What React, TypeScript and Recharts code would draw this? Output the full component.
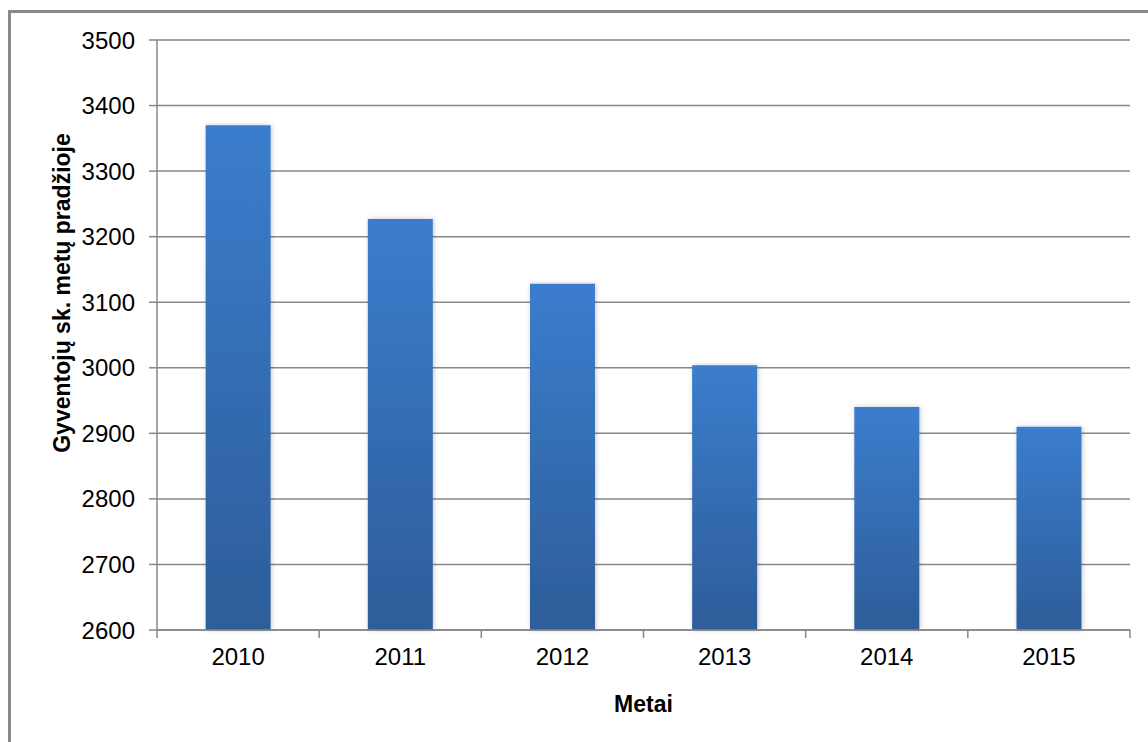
import { BarChart, Bar, XAxis, YAxis, CartesianGrid } from 'recharts';

const years = ['2010', '2011', '2012', '2013', '2014', '2015'];
const population = [3370, 3227, 3128, 3004, 2940, 2910];
const yTicks = [2600, 2700, 2800, 2900, 3000, 3100, 3200, 3300, 3400, 3500];

const CHART_W = 1148;
const CHART_H = 742;
const MARGIN = { top: 40, right: 18, bottom: 52, left: 0 };
const Y_AXIS_W = 157;
const PLOT_W = CHART_W - MARGIN.left - MARGIN.right - Y_AXIS_W;

const FONT = '"Liberation Sans", Arial, sans-serif';
const AXIS_GRAY = '#878787';

const data = years.map((year, i) => ({ year, value: population[i] }));

// ticks sit on category boundaries (Excel style), labels stay centered
function CategoryTick(props: any) {
  const { x, y, payload, index } = props;
  const half = PLOT_W / years.length / 2;
  const axisY = y - 18;
  const isLast = index === years.length - 1;
  return (
    <g>
      <line x1={x - half} x2={x - half} y1={axisY} y2={axisY + 8} stroke={AXIS_GRAY} strokeWidth={1.5} />
      {isLast && (
        <line x1={x + half} x2={x + half} y1={axisY} y2={axisY + 8} stroke={AXIS_GRAY} strokeWidth={1.5} />
      )}
      <text x={x} y={y} dy="0.71em" textAnchor="middle" fill="#000" fontSize={24} fontFamily={FONT}>
        {payload.value}
      </text>
    </g>
  );
}

function YTitle(props: any) {
  const { viewBox } = props;
  const cx = viewBox.x + 62;
  const cy = viewBox.y + viewBox.height / 2 - 42;
  return (
    <text
      x={cx}
      y={cy}
      transform={`rotate(-90, ${cx}, ${cy})`}
      textAnchor="middle"
      dominantBaseline="central"
      fontSize={23}
      fontWeight="bold"
      fontFamily={FONT}
      fill="#000"
    >
      Gyventojų sk. metų pradžioje
    </text>
  );
}

export default function App() {
  return (
    <div style={{ position: 'absolute', left: 0, top: 0, width: CHART_W, height: CHART_H, overflow: 'hidden', background: '#fff' }}>
      <div
        style={{
          position: 'absolute',
          left: 8,
          top: 10,
          width: 1300,
          height: 900,
          borderTop: '3px solid #8a8a8a',
          borderLeft: '3px solid #8a8a8a',
        }}
      />
      <div style={{ position: 'absolute', left: 0, top: 0 }}>
        <BarChart width={CHART_W} height={CHART_H} data={data} margin={MARGIN} barCategoryGap="30%">
          <defs>
            <linearGradient id="barFill" x1="0" y1="0" x2="0" y2="1">
              <stop offset="0%" stopColor="#3b7dcd" />
              <stop offset="100%" stopColor="#2d5d99" />
            </linearGradient>
            <filter id="barShadow" x="-20%" y="-5%" width="140%" height="110%">
              <feDropShadow dx="1" dy="0" stdDeviation="2.5" floodColor="#000" floodOpacity="0.22" />
            </filter>
          </defs>
          <CartesianGrid vertical={false} stroke={AXIS_GRAY} strokeWidth={1.5} />
          <XAxis
            dataKey="year"
            height={60}
            tickSize={8}
            tickMargin={10}
            tickLine={false}
            axisLine={{ stroke: AXIS_GRAY, strokeWidth: 1.5 }}
            tick={<CategoryTick />}
            interval={0}
            label={{
              value: 'Metai',
              position: 'bottom',
              offset: 6,
              style: { fontSize: 23, fontWeight: 'bold', fontFamily: FONT, fill: '#000' },
            }}
          />
          <YAxis
            width={Y_AXIS_W}
            domain={[2600, 3500]}
            ticks={yTicks}
            interval={0}
            tickSize={8}
            tickMargin={14}
            tick={{ fontSize: 24, fill: '#000', fontFamily: FONT }}
            tickLine={{ stroke: AXIS_GRAY, strokeWidth: 1.5 }}
            axisLine={{ stroke: AXIS_GRAY, strokeWidth: 1.5 }}
            label={<YTitle />}
          />
          <Bar dataKey="value" fill="url(#barFill)" filter="url(#barShadow)" isAnimationActive={false} />
        </BarChart>
      </div>
    </div>
  );
}
